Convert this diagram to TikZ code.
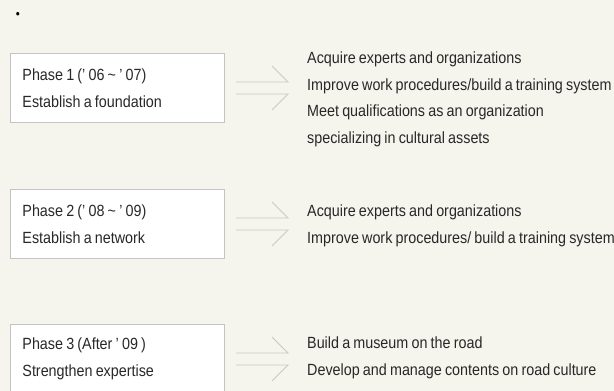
\documentclass[tikz,border=0pt]{standalone}
\usepackage{fontspec}
\setmainfont{Liberation Sans}[FakeStretch=0.885, WordSpace=0.8]
\usetikzlibrary{positioning, calc}
\usepackage{xcolor}
\definecolor{pagecolor}{RGB}{245, 245, 238}
\definecolor{framecolor}{RGB}{196, 196, 196}
\definecolor{arrowcolor}{RGB}{200, 200, 200}
\definecolor{inkcolor}{RGB}{40, 40, 40}

\begin{document}
\begin{tikzpicture}[x=1pt, y=-1pt,
    phasebox/.style={draw=framecolor, line width=0.9pt, fill=white, anchor=north west,
      minimum width=214pt, minimum height=69pt, text width=190pt, inner xsep=12pt,
      align=left, font=\fontsize{16.2}{27}\selectfont\color{inkcolor},
      execute at begin node={\spaceskip=0pt\xspaceskip=0pt}},
    goaltext/.style={anchor=north west, inner sep=0pt, align=left,
      font=\fontsize{16.2}{26.5}\selectfont\color{inkcolor}},
    arrowline/.style={draw=arrowcolor, line width=0.9pt}]
        \useasboundingbox (0,0) rectangle (614,391);
        \fill[pagecolor] (0,0) rectangle (614,391);
        \node[font=\fontsize{13}{13}\selectfont, inner sep=0pt] (bullet) at (18,15) {•};
        % phases
        \node[phasebox] (phaseA) at (10,53) {Phase 1 (’ 06 \textasciitilde{} ’ 07)\\Establish a foundation};
        \node[phasebox] (phaseB) at (10,189) {Phase 2 (’ 08 \textasciitilde{} ’ 09)\\Establish a network};
        \node[phasebox] (phaseC) at (10,324) {Phase 3 (After ’ 09 )\\Strengthen expertise};
        % goals
        \node[goaltext] (goalsA) at (307,52) {Acquire experts and organizations\\
              Improve work procedures/build a training system\\
              Meet qualifications as an organization\\
              specializing in cultural assets};
        \node[goaltext] (goalsB) at (307,205) {Acquire experts and organizations\\
              Improve work procedures/ build a training system};
        \node[goaltext] (goalsC) at (307,337) {Build a museum on the road\\
              Develop and manage contents on road culture};
        % arrows
        \foreach \from/\to in {phaseA/goalsA, phaseB/goalsB, phaseC/goalsC} {
          \draw[arrowline] ($(\from.east)+(11,-6)$) -- ($(\to.west |- \from.east)+(-19,-6)$) -- ++(-16,-16);
          \draw[arrowline] ($(\from.east)+(11,6)$) -- ($(\to.west |- \from.east)+(-19,6)$) -- ++(-16,16);
        }
      \end{tikzpicture}
\end{document}
